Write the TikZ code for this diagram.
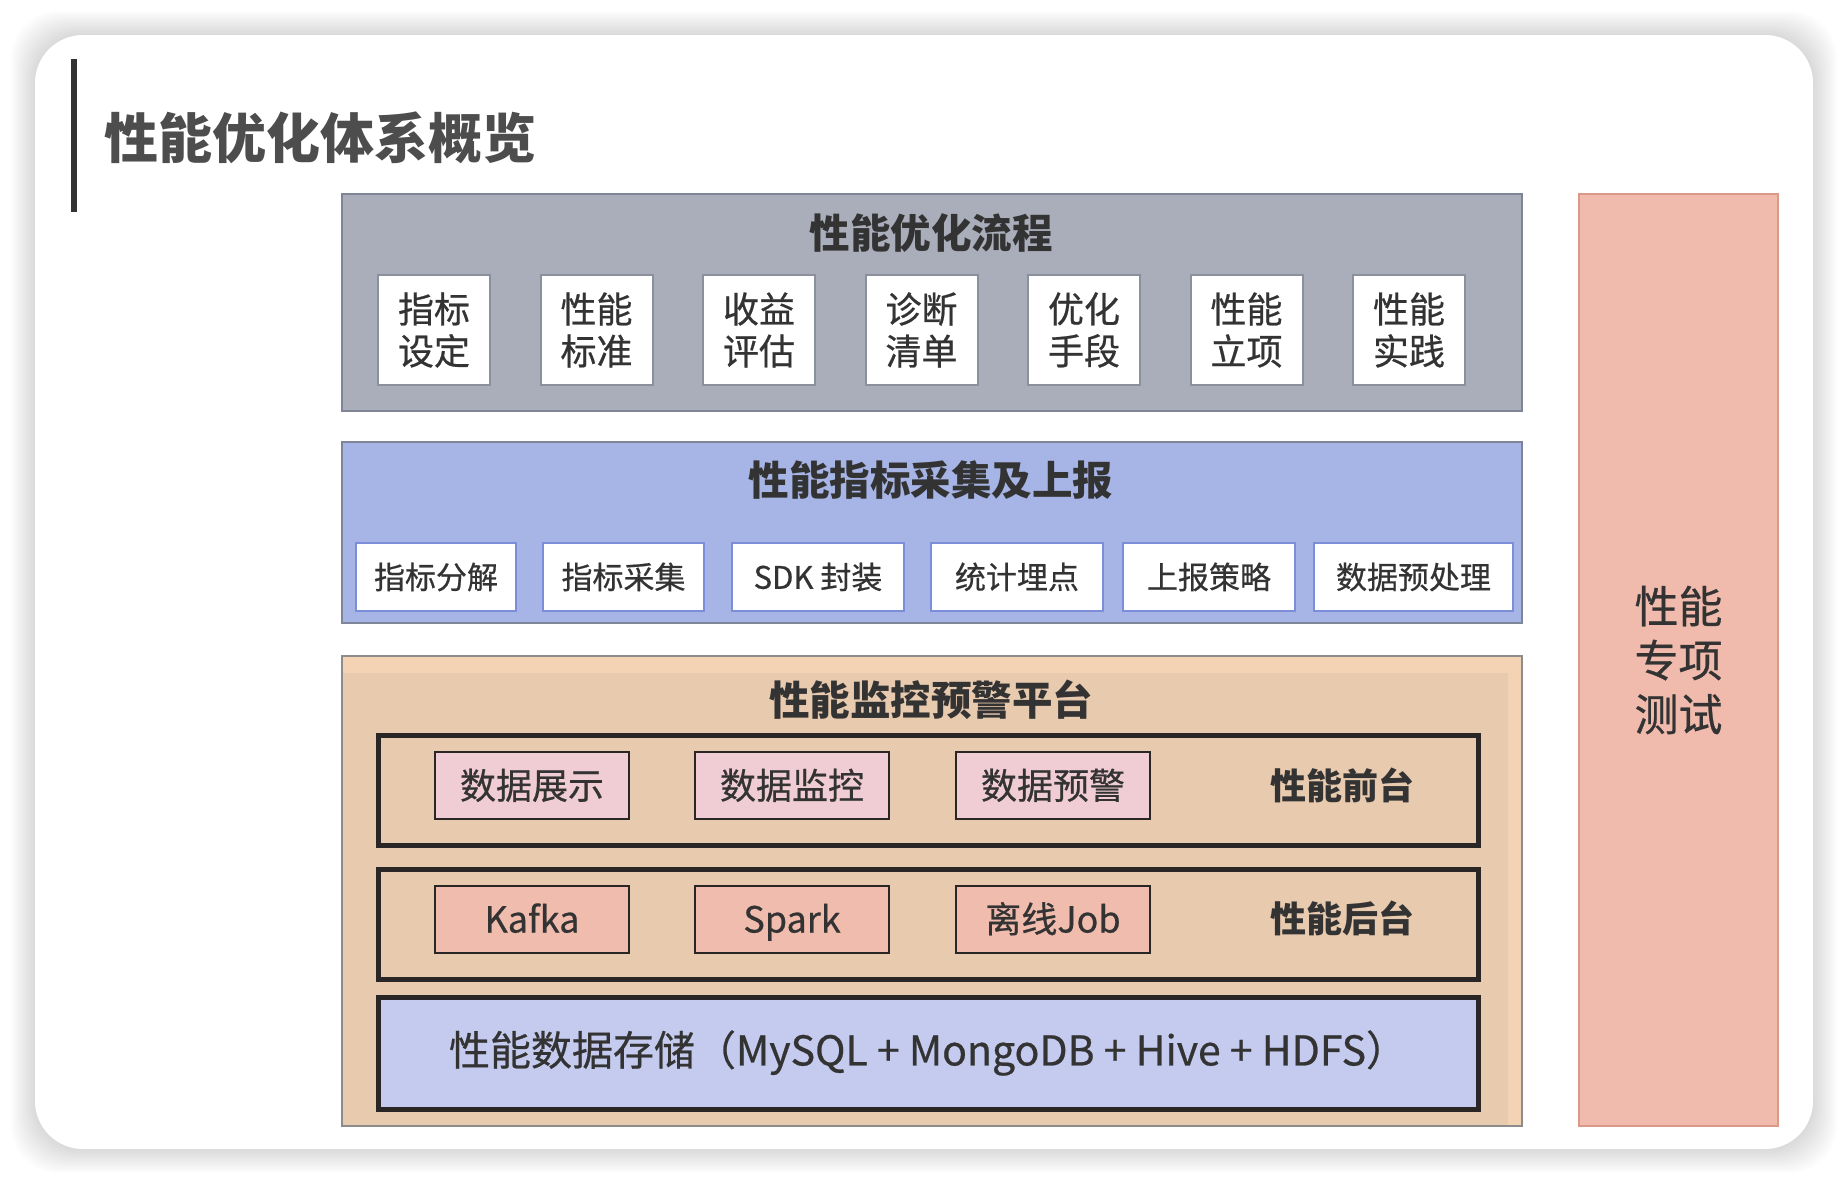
\documentclass[tikz,border=0pt]{standalone}
\usepackage{fontspec}
\setmainfont{Noto Sans CJK SC}
\newfontfamily\medium{Noto Sans CJK SC}[FakeBold=0.6]
\definecolor{ink}{HTML}{333333}
\definecolor{titleink}{HTML}{4D4D4D}
\definecolor{flowfill}{HTML}{A9AEBA}
\definecolor{flowline}{HTML}{7F8594}
\definecolor{flowbox}{HTML}{8A909C}
\definecolor{collfill}{HTML}{A6B4E6}
\definecolor{collline}{HTML}{7E8598}
\definecolor{collbox}{HTML}{7C8ED8}
\definecolor{monfill}{HTML}{E8CAAE}
\definecolor{montop}{HTML}{F3D3B3}
\definecolor{monline}{HTML}{8C8C8C}
\definecolor{frame}{HTML}{2B2626}
\definecolor{pinkfill}{HTML}{F0CDD4}
\definecolor{salmon}{HTML}{F0BCAE}
\definecolor{lavender}{HTML}{C5CBEE}
\definecolor{sidefill}{HTML}{F0BBAD}
\definecolor{sideline}{HTML}{DB9A88}
\begin{document}
\begin{tikzpicture}[x=1pt,y=-1pt,
  every node/.style={inner sep=0pt, outer sep=0pt, text=ink},
  panel/.style={draw, line width=2pt},
  paneltitle/.style={font=\fontsize{40.5}{46}\selectfont\bfseries},
  flowstep/.style={draw=flowbox, fill=white, line width=2pt, minimum width=112, minimum height=110,
    align=center, font=\medium\fontsize{36}{42}\selectfont},
  collstep/.style={draw=collbox, fill=white, line width=2pt, minimum height=68,
    text height=25pt, text depth=1.5pt, font=\medium\fontsize{31}{36}\selectfont},
  tier/.style={draw=frame, line width=5pt, minimum width=1100, minimum height=110},
  tierlabel/.style={font=\fontsize{36}{40}\selectfont\bfseries, text height=29pt, text depth=2pt},
  module/.style={draw=frame, line width=2pt, minimum width=194, minimum height=67,
    text height=29pt, text depth=2pt, font=\medium\fontsize{36}{40}\selectfont}]
\useasboundingbox (0,0) rectangle (1848,1186);
\fill[white] (0,0) rectangle (1848,1186);

% soft shadow round the card
\foreach \d in {2,4,...,24}
  \fill[black, opacity=0.013, rounded corners=48] (35-\d,35-\d) rectangle (1813+\d,1149+\d);
\fill[white, rounded corners=48] (35,35) rectangle (1813,1149);

% heading
\fill[ink] (71,59) rectangle (77,212);
\node[anchor=west, text=titleink, font=\fontsize{54}{60}\selectfont\bfseries] (heading) at (104,138) {性能优化体系概览};

% optimisation flow
\node[panel, draw=flowline, fill=flowfill, minimum width=1180, minimum height=217] (flow) at (932,302.5) {};
\node[paneltitle] (flowtitle) at (931,233) {性能优化流程};
\foreach \i/\t in {0/{指标\\设定},1/{性能\\标准},2/{收益\\评估},3/{诊断\\清单},4/{优化\\手段},5/{性能\\立项},6/{性能\\实践}}
  \node[flowstep] (f\i) at (434+162.5*\i,330) {\t};

% metric collection and reporting
\node[panel, draw=collline, fill=collfill, minimum width=1180, minimum height=181] (coll) at (932,532.5) {};
\node[paneltitle] (colltitle) at (931,480) {性能指标采集及上报};
\node[collstep, minimum width=160] (c1) at (436,577) {指标分解};
\node[collstep, minimum width=161] (c2) at (623.5,577) {指标采集};
\node[collstep, minimum width=172] (c3) at (818,577) {SDK 封装};
\node[collstep, minimum width=172] (c4) at (1017,577) {统计埋点};
\node[collstep, minimum width=172] (c5) at (1209,577) {上报策略};
\node[collstep, minimum width=199] (c6) at (1413.5,577) {数据预处理};

% monitoring and alerting platform
\node[panel, draw=monline, fill=monfill, minimum width=1180, minimum height=470] (mon) at (932,891) {};
\fill[montop] (343,657) rectangle (1521,673);
\fill[montop] (1508,657) rectangle (1521,1125);
\node[paneltitle] (montitle) at (931,700) {性能监控预警平台};

\node[tier, fill=monfill] (front) at (928,790) {};
\node[module, fill=pinkfill] (m1) at (532,785.5) {数据展示};
\node[module, fill=pinkfill] (m2) at (792,785.5) {数据监控};
\node[module, fill=pinkfill] (m3) at (1053,785.5) {数据预警};
\node[tierlabel] (frontlabel) at (1342,786) {性能前台};

\node[tier, fill=monfill] (back) at (928,924) {};
\node[module, fill=salmon] (k1) at (532,919) {Kafka};
\node[module, fill=salmon] (k2) at (792,919) {Spark};
\node[module, fill=salmon] (k3) at (1053,919) {离线Job};
\node[tierlabel] (backlabel) at (1342,919) {性能后台};

\node[tier, fill=lavender, minimum height=112, font=\medium\fontsize{41}{46}\selectfont] (store) at (928,1053)
  {性能数据存储（MySQL + MongoDB + Hive + HDFS）};

% special performance testing
\node[draw=sideline, fill=sidefill, line width=2pt, minimum width=199, minimum height=932,
  align=center, font=\medium\fontsize{44}{54}\selectfont] (side) at (1678.5,660) {性能\\专项\\测试};
\end{tikzpicture}
\end{document}
